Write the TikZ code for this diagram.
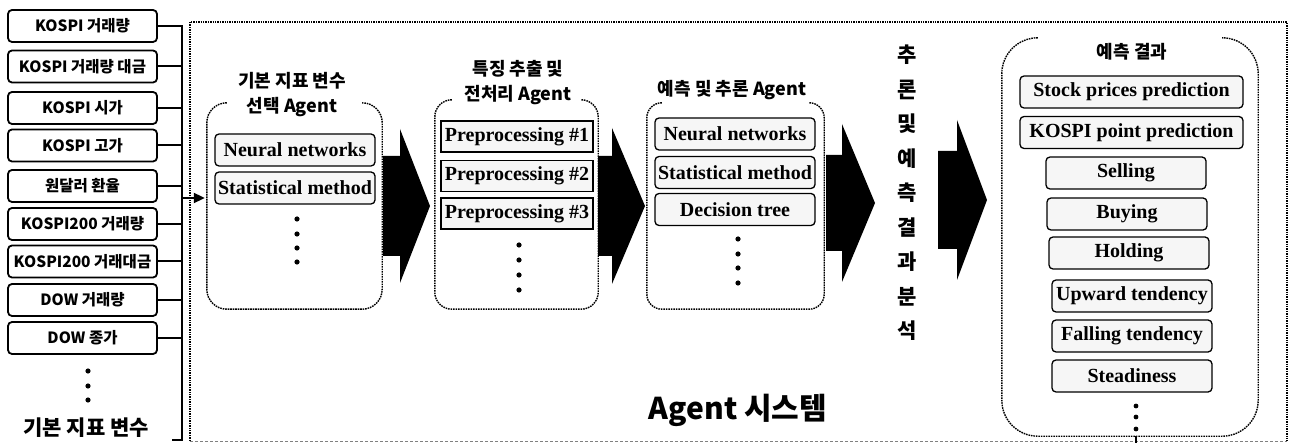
\documentclass[tikz,border=0pt]{standalone}
\usepackage{fontspec}
\setmainfont{Liberation Serif}
\newfontfamily\kofont{Noto Sans CJK KR}
\usepackage{tikz}
\usetikzlibrary{arrows.meta}

\begin{document}
\begin{tikzpicture}[x=1pt,y=-1pt,
  srcbox/.style={draw, line width=1.8pt, rounded corners=4pt, minimum width=149pt, minimum height=32pt, inner sep=0pt, font=\kofont\bfseries\fontsize{15.5}{18}\selectfont},
  itembox/.style={draw, line width=1.3pt, rounded corners=4pt, fill=gray!7, minimum width=160pt, minimum height=32pt, inner sep=0pt, font=\bfseries\fontsize{20}{22}\selectfont},
  sqbox/.style={itembox, rounded corners=0pt, minimum width=152pt, minimum height=31pt},
  agentline/.style={line width=1.4pt, dash pattern=on 1.6pt off 0.9pt},
  title/.style={font=\kofont\bfseries\fontsize{18}{25}\selectfont, align=center, inner sep=0pt},
  bus/.style={line width=2pt},
]
\useasboundingbox (0,0) rectangle (1295,443);

%Shape: Frame
\draw[line width=2pt, dash pattern=on 1.4pt off 1pt] (190,441) -- (190,22) -- (1287,22) -- (1287,441);
\draw[gray, line width=0.7pt, dash pattern=on 3pt off 2pt] (190,441) -- (1287,441);

% Input boxes
\foreach \i/\y/\t in {1/26/KOSPI 거래량, 2/66.5/KOSPI 거래량 대금, 3/108/KOSPI 시가, 4/145.5/KOSPI 고가, 5/186/원달러 환율, 6/224/KOSPI200 거래량, 7/261.5/KOSPI200 거래대금, 8/300/DOW 거래량, 9/338/DOW 종가}
  \node[srcbox] (s\i) at (82.5,\y) {\t};
\foreach \y in {371,386,400}
  \fill (88,\y) circle (2.6pt);
% Text Node
\node[font=\kofont\bfseries\fontsize{21}{23}\selectfont] (base) at (86,428) {기본 지표 변수};

%Straight Lines: bus
\coordinate (bustop) at (182,26);
\coordinate (busbot) at (182,440);
\coordinate (busout) at (182,198);
\draw[bus] (s1.east) -- (bustop) -- (busbot) -- ++(-10,0);
\foreach \i in {2,...,9}
  \draw[bus] (s\i.east) -- (s\i.east -| bustop);

% Agent boxes (open at the top)
\foreach \n/\cx/\cy/\w/\h/\r in {a1/294.5/206/175pt/206pt/20, a2/516.5/204.5/163pt/209pt/17, a3/735.5/206/177pt/206pt/15, res/1130/237/256pt/398pt/36}{
  \node[minimum width=\w, minimum height=\h, inner sep=0pt] (\n) at (\cx,\cy) {};
  \draw[agentline, rounded corners=\r pt] ([xshift=\r pt]\n.north west) -- (\n.north west) -- (\n.south west)
    -- (\n.south east) -- (\n.north east) -- ([xshift=-\r pt]\n.north east);
}
\draw[bus, -{Triangle[length=11pt,width=10pt]}] (busout) -- ([xshift=-2pt]a1.west |- busout);

% Text Node
\node[title] (t1) at (292,95) {기본 지표 변수\\선택 Agent};
\node[title] (t2) at (518,82.5) {특징 추출 및\\전처리 Agent};
\node[title] (t3) at (732,90) {예측 및 추론 Agent};
\node[title] (t4) at (1132,52) {예측 결과};

% Agent 1
\node[itembox] (n1) at (295,150) {Neural networks};
\node[itembox] (n2) at (295,188) {Statistical method};
\foreach \y in {219,234,248,262}
  \fill (297,\y) circle (2.6pt);

% Agent 2
\node[sqbox] (p1) at (517,136.5) {Preprocessing \#1};
\node[sqbox] (p2) at (517,176) {Preprocessing \#2};
\node[sqbox] (p3) at (517,213.5) {Preprocessing \#3};
\foreach \y in {245,260,275,290}
  \fill (519,\y) circle (2.6pt);

% Agent 3
\node[itembox] (m1) at (735,134) {Neural networks};
\node[itembox] (m2) at (735,172.5) {Statistical method};
\node[itembox] (m3) at (735,209.5) {Decision tree};
\foreach \y in {239,254,268,283}
  \fill (738,\y) circle (2.6pt);

% Results
\node[itembox, minimum width=223pt] (r1) at (1131.5,92) {Stock prices prediction};
\node[itembox, minimum width=223pt] (r2) at (1131.5,132.5) {KOSPI point prediction};
\node[itembox] (r3) at (1126,173) {Selling};
\node[itembox] (r4) at (1127,214) {Buying};
\node[itembox] (r5) at (1129,253) {Holding};
\node[itembox] (r6) at (1132,296) {Upward tendency};
\node[itembox] (r7) at (1132,336) {Falling tendency};
\node[itembox] (r8) at (1132,376) {Steadiness};
\foreach \y in {406,417,429}
  \fill (1136,\y) circle (2.4pt);
\draw[line width=1.5pt] (1136,436) -- (1136,443);

%Shape: Block arrows
\foreach \xa/\xb/\xc/\cy/\hb/\hh in {383/400/430/206/50/77, 598/612/645/206/50/78, 826/842/875/203/48/79, 938/957/987/200/49/80}
  \fill (\xa,\cy-\hb) -- (\xb,\cy-\hb) -- (\xb,\cy-\hh) -- (\xc,\cy) -- (\xb,\cy+\hh) -- (\xb,\cy+\hb) -- (\xa,\cy+\hb) -- cycle;

% Text Node
\node[font=\kofont\bfseries\fontsize{21}{34.5}\selectfont, align=center, inner sep=0pt] (vt) at (907,193) {추\\론\\및\\예\\측\\결\\과\\분\\석};
\node[font=\kofont\bfseries\fontsize{30}{32}\selectfont] (sys) at (738,410) {Agent 시스템};

\end{tikzpicture}
\end{document}
